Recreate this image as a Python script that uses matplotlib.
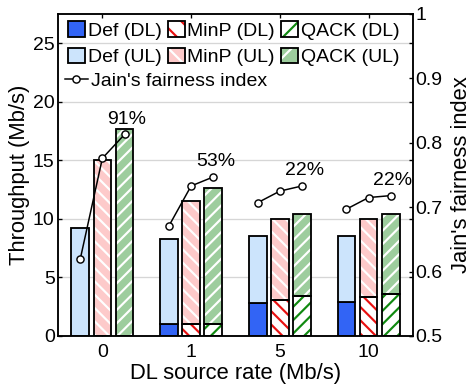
import matplotlib
matplotlib.use('Agg')
import matplotlib.pyplot as plt
from matplotlib.patches import Patch
from matplotlib.lines import Line2D
from matplotlib.legend_handler import HandlerTuple
import numpy as np

# ---- data ----
categories = ['0', '1', '5', '10']
def_dl = [0.0, 1.0, 2.8, 2.9]
def_ul = [9.2, 7.3, 5.7, 5.6]
minp_dl = [0.0, 1.0, 3.1, 3.3]
minp_ul = [15.0, 10.5, 6.9, 6.7]
qack_dl = [0.0, 1.0, 3.4, 3.6]
qack_ul = [17.7, 11.6, 7.0, 6.8]
fair_def = [0.619, 0.671, 0.707, 0.697]
fair_minp = [0.776, 0.733, 0.725, 0.715]
fair_qack = [0.813, 0.747, 0.733, 0.718]
gain_labels = ['91%', '53%', '22%', '22%']

plt.rcParams['font.family'] = ['Liberation Sans', 'DejaVu Sans']
plt.rcParams['hatch.linewidth'] = 1.3
FS = 11.7
FL = 13.2

DPI = 120
fig = plt.figure(figsize=(473 / DPI, 386 / DPI), dpi=DPI)
ax = fig.add_axes([58 / 473, 1 - 336 / 386, (413 - 58) / 473, (336 - 14) / 386])
ax2 = ax.twinx()

x = np.arange(len(categories))
w = 0.2
off = 0.25
lw = 1.1

c_def_dl = '#3264f5'
c_def_ul = '#cce4fc'
c_minp = '#fdcaca'
c_qack = '#9dcd9d'
c_red = '#e81010'
c_green = '#108a10'

HB = '\\' * 3
HF = '/' * 3
HB_leg = '\\' * 2
HF_leg = '/' * 2


def hbar(xpos, h, bottom, fc, hc, hatch):
    if hatch:
        ax.bar(xpos, h, w, bottom=bottom, color=fc, edgecolor=hc, hatch=hatch, linewidth=0, zorder=2)
        ax.bar(xpos, h, w, bottom=bottom, color='none', edgecolor='black', linewidth=lw, zorder=3)
    else:
        ax.bar(xpos, h, w, bottom=bottom, color=fc, edgecolor='black', linewidth=lw, zorder=3)


hbar(x - off, def_dl, 0, c_def_dl, None, None)
hbar(x - off, def_ul, def_dl, c_def_ul, None, None)
hbar(x, minp_dl, 0, 'white', c_red, HB)
hbar(x, minp_ul, minp_dl, c_minp, 'white', HB)
hbar(x + off, qack_dl, 0, 'white', c_green, HF)
hbar(x + off, qack_ul, qack_dl, c_qack, 'white', HF)

ax.set_xlim(-0.5, 3.5)
ax.set_ylim(0, 27.5)
ax.set_yticks([0, 5, 10, 15, 20, 25])
ax.set_xticks(x)
ax.set_xticklabels(categories)
ax.yaxis.grid(True, color='#d6d6d6', linewidth=0.8)
ax.set_axisbelow(True)
ax.tick_params(axis='both', direction='in', length=2.4, width=0.8, labelsize=FS,
               top=True, right=True)
ax.tick_params(axis='y', pad=2)
ax.tick_params(axis='x', pad=5)
ax.set_ylabel('Throughput (Mb/s)', fontsize=FL, labelpad=2)
ax.set_xlabel('DL source rate (Mb/s)', fontsize=FL, labelpad=1)

for i in range(len(categories)):
    ax2.plot([x[i] - off, x[i], x[i] + off], [fair_def[i], fair_minp[i], fair_qack[i]],
             color='black', linewidth=0.9, marker='o', markersize=4.3,
             markerfacecolor='white', markeredgecolor='black', markeredgewidth=0.85, zorder=5)
    ax2.annotate(gain_labels[i], (x[i] + off, fair_qack[i]), xytext=(1.3, 9),
                 textcoords='offset points', ha='center', va='center', fontsize=FS)

ax2.set_ylim(0.5, 1.0)
ax2.set_yticks([0.5, 0.6, 0.7, 0.8, 0.9, 1.0])
ax2.set_yticklabels(['0.5', '0.6', '0.7', '0.8', '0.9', '1'])
ax2.tick_params(axis='y', direction='in', length=2.4, width=0.8, labelsize=FS, pad=1.5)
ax2.set_ylabel("Jain's fairness index", fontsize=FL, labelpad=5)

for sp in list(ax.spines.values()) + list(ax2.spines.values()):
    sp.set_linewidth(0.9)

h_def_dl = Patch(facecolor=c_def_dl, edgecolor='black', linewidth=lw)
h_def_ul = Patch(facecolor=c_def_ul, edgecolor='black', linewidth=lw)
h_minp_dl = (Patch(facecolor='white', edgecolor=c_red, hatch=HB_leg, linewidth=0),
             Patch(facecolor='none', edgecolor='black', linewidth=lw))
h_minp_ul = (Patch(facecolor=c_minp, edgecolor='white', hatch=HB_leg, linewidth=0),
             Patch(facecolor='none', edgecolor='black', linewidth=lw))
h_qack_dl = (Patch(facecolor='white', edgecolor=c_green, hatch=HF_leg, linewidth=0),
             Patch(facecolor='none', edgecolor='black', linewidth=lw))
h_qack_ul = (Patch(facecolor=c_qack, edgecolor='white', hatch=HF_leg, linewidth=0),
             Patch(facecolor='none', edgecolor='black', linewidth=lw))
h_fair = Line2D([], [], color='black', linewidth=0.9, marker='o', markersize=4.3,
                markerfacecolor='white', markeredgecolor='black', markeredgewidth=0.85)

handles = [h_def_dl, h_def_ul, h_minp_dl, h_minp_ul, h_qack_dl, h_qack_ul]
labels = ['Def (DL)', 'Def (UL)', 'MinP (DL)', 'MinP (UL)', 'QACK (DL)', 'QACK (UL)']
leg1 = ax2.legend(handles, labels, ncol=3, loc='upper left', bbox_to_anchor=(0.028, 0.978),
                  frameon=False, fontsize=FS, handlelength=0.87, handleheight=0.87,
                  handletextpad=0.15, columnspacing=0.3, labelspacing=0.4, borderpad=0,
                  borderaxespad=0, handler_map={tuple: HandlerTuple(ndivide=1)})
ax2.add_artist(leg1)
ax2.legend([h_fair], ["Jain's fairness index"], loc='center left',
           bbox_to_anchor=(0.02, (336 - 81) / 322), frameon=False, fontsize=FS,
           handlelength=1.15, handletextpad=0.2, borderpad=0, borderaxespad=0)

fig.savefig('out.png', dpi=DPI)
